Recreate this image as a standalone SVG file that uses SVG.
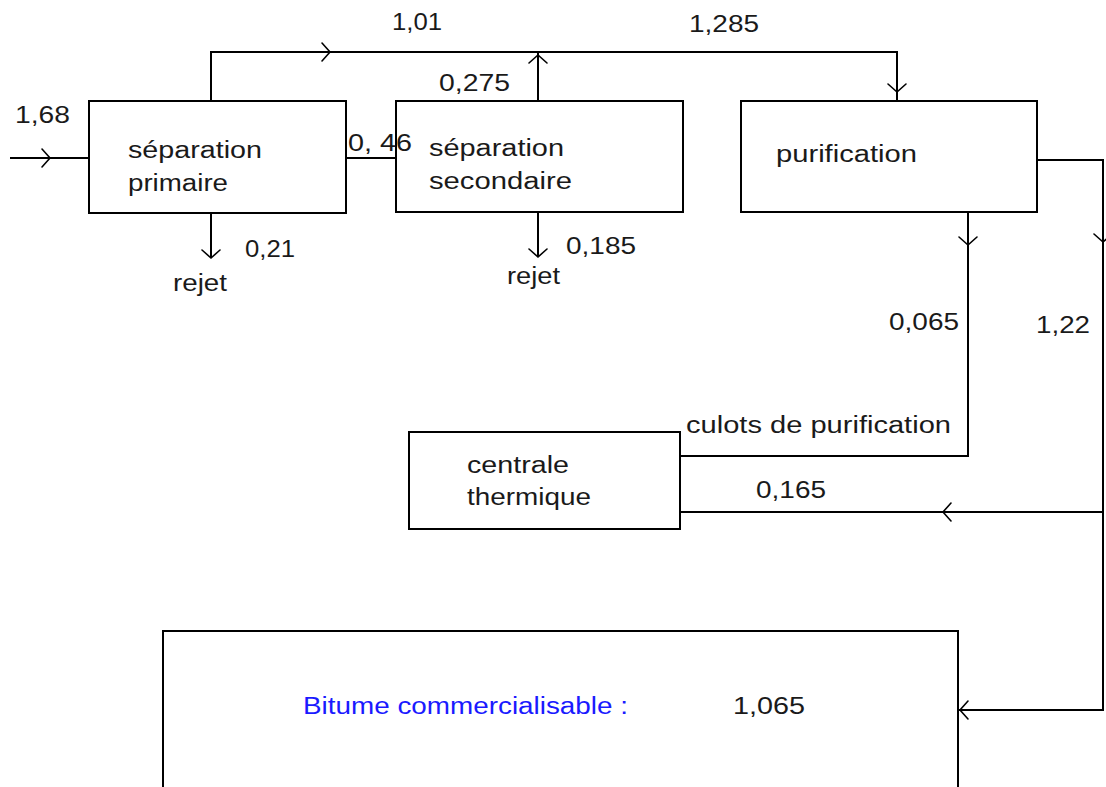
<svg xmlns="http://www.w3.org/2000/svg" xmlns:xlink="http://www.w3.org/1999/xlink" width="1106" height="787" viewBox="0 0 1106 787">
  <style>
    .box { fill: #ffffff; stroke: #000000; stroke-width: 2; }
    .flow { fill: none; stroke: #000000; stroke-width: 2; }
    .chev { fill: none; stroke: #000000; stroke-width: 1.6; stroke-linecap: round; stroke-linejoin: miter; }
    text { font-family: "Liberation Sans", Arial, sans-serif; font-size: 23px; fill: #1a1a1a; }
    .blue { fill: #1a1aff; }
  </style>
  <defs>
    <!-- open chevron arrowhead, tip at the origin, pointing along +x -->
    <path id="chev" d="M-8,-9 L0,0 L-8,9"/>
  </defs>
  <rect width="1106" height="787" fill="#ffffff"/>

  <!-- flows between the process units -->
  <g id="connectors">
    <!-- feed into primary separation -->
    <line class="flow" x1="10" y1="158" x2="89" y2="158"/>
    <use href="#chev" class="chev" transform="translate(50,158)"/>
    <!-- primary -> secondary separation -->
    <line class="flow" x1="346" y1="158" x2="396" y2="158"/>
    <!-- primary overflow to purification -->
    <polyline class="flow" points="211,101 211,52 897,52 897,101"/>
    <use href="#chev" class="chev" transform="translate(330,52)"/>
    <use href="#chev" class="chev" transform="translate(897,92) rotate(90)"/>
    <!-- secondary overflow joins the header -->
    <line class="flow" x1="538" y1="101" x2="538" y2="52"/>
    <use href="#chev" class="chev" transform="translate(538,55) rotate(-90)"/>
    <!-- rejects -->
    <line class="flow" x1="211" y1="213" x2="211" y2="258"/>
    <use href="#chev" class="chev" transform="translate(211,258) rotate(90)"/>
    <line class="flow" x1="538" y1="212" x2="538" y2="257"/>
    <use href="#chev" class="chev" transform="translate(538,257) rotate(90)"/>
    <!-- purification residues to the power plant -->
    <polyline class="flow" points="968,212 968,456 680,456"/>
    <use href="#chev" class="chev" transform="translate(968,245) rotate(90)"/>
    <!-- purified product -->
    <polyline class="flow" points="1037,160 1103,160 1103,710 958,710"/>
    <use href="#chev" class="chev" transform="translate(1103,242) rotate(90)"/>
    <use href="#chev" class="chev" transform="translate(960,710) rotate(180)"/>
    <!-- fuel draw-off to the power plant -->
    <line class="flow" x1="1103" y1="512" x2="680" y2="512"/>
    <use href="#chev" class="chev" transform="translate(943,512) rotate(180)"/>
  </g>

  <g id="sep-primaire">
    <rect class="box" x="89" y="101" width="257" height="112"/>
    <text x="128" y="158" textLength="134" lengthAdjust="spacingAndGlyphs">séparation</text>
    <text x="128" y="191" textLength="100" lengthAdjust="spacingAndGlyphs">primaire</text>
  </g>

  <g id="sep-secondaire">
    <rect class="box" x="396" y="101" width="287" height="111"/>
    <text x="429" y="156" textLength="135" lengthAdjust="spacingAndGlyphs">séparation</text>
    <text x="429" y="189" textLength="143" lengthAdjust="spacingAndGlyphs">secondaire</text>
  </g>

  <g id="purification">
    <rect class="box" x="741" y="101" width="296" height="111"/>
    <text x="776" y="162" textLength="141" lengthAdjust="spacingAndGlyphs">purification</text>
  </g>

  <g id="centrale">
    <rect class="box" x="409" y="432" width="271" height="97"/>
    <text x="467" y="473" textLength="102" lengthAdjust="spacingAndGlyphs">centrale</text>
    <text x="467" y="505" textLength="124" lengthAdjust="spacingAndGlyphs">thermique</text>
  </g>

  <g id="bitume">
    <path class="flow" d="M163,790 L163,631 L958,631 L958,790"/>
    <text class="blue" x="303" y="714" textLength="325" lengthAdjust="spacingAndGlyphs">Bitume commercialisable :</text>
    <text x="733" y="714" textLength="72" lengthAdjust="spacingAndGlyphs">1,065</text>
  </g>

  <!-- flow rates and labels -->
  <g id="labels">
    <text x="15" y="123" textLength="55" lengthAdjust="spacingAndGlyphs">1,68</text>
    <text x="348" y="151" textLength="64" lengthAdjust="spacingAndGlyphs">0, 46</text>
    <text x="245" y="257" textLength="50" lengthAdjust="spacingAndGlyphs">0,21</text>
    <text x="173" y="291" textLength="54" lengthAdjust="spacingAndGlyphs">rejet</text>
    <text x="392" y="30" textLength="50" lengthAdjust="spacingAndGlyphs">1,01</text>
    <text x="689" y="32" textLength="70" lengthAdjust="spacingAndGlyphs">1,285</text>
    <text x="439" y="91" textLength="71" lengthAdjust="spacingAndGlyphs">0,275</text>
    <text x="566" y="254" textLength="70" lengthAdjust="spacingAndGlyphs">0,185</text>
    <text x="507" y="284" textLength="53" lengthAdjust="spacingAndGlyphs">rejet</text>
    <text x="889" y="330" textLength="70" lengthAdjust="spacingAndGlyphs">0,065</text>
    <text x="1036" y="333" textLength="54" lengthAdjust="spacingAndGlyphs">1,22</text>
    <text x="686" y="433" textLength="265" lengthAdjust="spacingAndGlyphs">culots de purification</text>
    <text x="756" y="498" textLength="70" lengthAdjust="spacingAndGlyphs">0,165</text>
  </g>
</svg>
